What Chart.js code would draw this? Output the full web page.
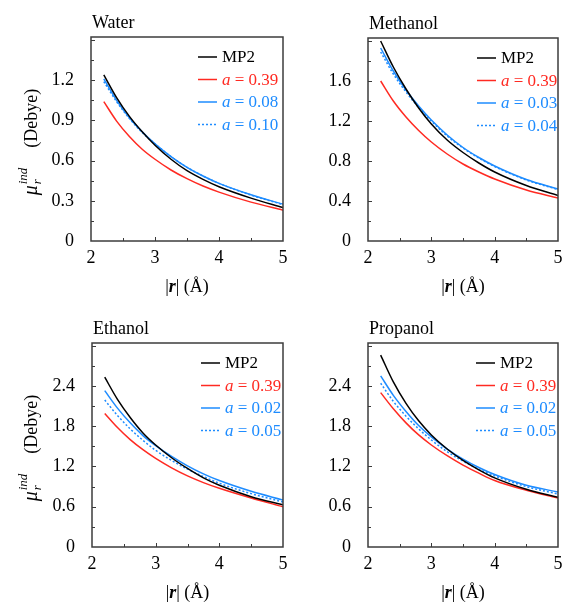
<!DOCTYPE html>
<html><head><meta charset="utf-8">
<script src="https://cdn.jsdelivr.net/npm/chart.js@4.4.1/dist/chart.umd.min.js"></script>
<style>
html,body{margin:0;padding:0;background:#fff;}
#wrap{position:relative;width:563px;height:604px;overflow:hidden;}
#wrap canvas{position:absolute;left:0;top:0;}
</style></head><body>
<div id="wrap">
<canvas id="c0" width="563" height="604"></canvas>
<canvas id="c1" width="563" height="604"></canvas>
<canvas id="c2" width="563" height="604"></canvas>
<canvas id="c3" width="563" height="604"></canvas>
</div>
<script>
// ---------- data ----------
const R = [2.2, 2.4, 2.6, 2.8, 3.0, 3.25, 3.5, 3.75, 4.0, 4.5, 5.0];

const waterMP2 = [1.24, 1.07, 0.93, 0.815, 0.715, 0.61, 0.525, 0.46, 0.405, 0.32, 0.25];
const waterA039 = [1.04, 0.895, 0.78, 0.685, 0.61, 0.53, 0.465, 0.41, 0.365, 0.29, 0.23];
const waterA008 = [1.21, 1.05, 0.92, 0.815, 0.725, 0.63, 0.55, 0.485, 0.43, 0.345, 0.275];
const waterA010 = [1.19, 1.04, 0.915, 0.81, 0.725, 0.63, 0.55, 0.485, 0.43, 0.343, 0.272];
const waterLabels = ['MP2', 'a = 0.39', 'a = 0.08', 'a = 0.10'];

const methMP2 = [2.0, 1.74, 1.52, 1.33, 1.17, 1.01, 0.885, 0.78, 0.69, 0.555, 0.455];
const methA039 = [1.60, 1.40, 1.24, 1.105, 0.99, 0.87, 0.77, 0.69, 0.62, 0.51, 0.43];
const methA003 = [1.93, 1.70, 1.51, 1.35, 1.21, 1.06, 0.935, 0.835, 0.75, 0.615, 0.52];
const methA004 = [1.89, 1.67, 1.49, 1.335, 1.20, 1.05, 0.93, 0.83, 0.745, 0.61, 0.515];
const methLabels = ['MP2', 'a = 0.39', 'a = 0.03', 'a = 0.04'];

const ethMP2 = [2.53, 2.20, 1.93, 1.70, 1.52, 1.33, 1.17, 1.03, 0.92, 0.75, 0.63];
const ethA039 = [1.99, 1.78, 1.60, 1.45, 1.32, 1.18, 1.06, 0.96, 0.875, 0.73, 0.60];
const ethA002 = [2.33, 2.07, 1.85, 1.66, 1.51, 1.35, 1.21, 1.09, 0.99, 0.83, 0.70];
const ethA005 = [2.19, 1.96, 1.76, 1.59, 1.44, 1.29, 1.16, 1.05, 0.95, 0.795, 0.67];
const ethLabels = ['MP2', 'a = 0.39', 'a = 0.02', 'a = 0.05'];

const propMP2 = [2.86, 2.46, 2.14, 1.88, 1.67, 1.46, 1.29, 1.15, 1.03, 0.86, 0.74];
const propA039 = [2.30, 2.06, 1.85, 1.67, 1.52, 1.36, 1.22, 1.10, 0.99, 0.845, 0.73];
const propA002 = [2.55, 2.26, 2.02, 1.81, 1.64, 1.46, 1.31, 1.185, 1.08, 0.92, 0.82];
const propA005 = [2.44, 2.17, 1.95, 1.76, 1.595, 1.42, 1.28, 1.16, 1.06, 0.90, 0.79];
const propLabels = ['MP2', 'a = 0.39', 'a = 0.02', 'a = 0.05'];

const panelTitles = ['Water', 'Methanol', 'Ethanol', 'Propanol'];
const xTickValues = [2, 3, 4, 5];
const yTickSteps = [0.3, 0.4, 0.6, 0.6];
const yAxisMax = [1.5225, 2.03, 3.04, 3.04];

// ---------- styling / layout ----------
const FONT = '"Liberation Serif","Times New Roman",serif';
Chart.defaults.font.family = FONT;
const COLORS = ['#000000', '#ff2a22', '#1e8cff', '#1e8cff'];
const DASHES = [[], [], [], [2, 2]];
const PAGE_W = 563, PAGE_H = 604;
const YW = 60, XH = 30;
const boxes = [
  {l: 91, r: 283, t: 37, b: 241, yTitle: true, legendDx: 85},
  {l: 368, r: 558, t: 38, b: 241, yTitle: false, legendDx: 81},
  {l: 92, r: 283, t: 343, b: 547, yTitle: true, legendDx: 82},
  {l: 368, r: 558, t: 343, b: 547, yTitle: false, legendDx: 82}
];

const decor = {
  id: 'decor',
  afterDraw(chart, args, o) {
    const ctx = chart.ctx, a = chart.chartArea;
    const xs = chart.scales.x, ys = chart.scales.y;
    ctx.save();
    // inward ticks
    ctx.strokeStyle = '#3a3a3a';
    ctx.lineWidth = 1;
    ctx.beginPath();
    xs.ticks.forEach(t => {
      const px = Math.round(xs.getPixelForValue(t.value)) + 0.5;
      if (px < a.left + 2 || px > a.right - 2) return;
      const L = Number.isInteger(t.value) ? 4 : 3;
      ctx.moveTo(px, a.bottom); ctx.lineTo(px, a.bottom - L);
    });
    ys.ticks.forEach(t => {
      const py = Math.round(ys.getPixelForValue(t.value)) + 0.5;
      if (py < a.top + 2 || py > a.bottom - 2) return;
      const k = Math.round(t.value / (o.step / 2));
      const L = k % 2 === 0 ? 4 : 3;
      ctx.moveTo(a.left, py); ctx.lineTo(a.left + L, py);
    });
    ctx.stroke();
    // frame
    ctx.lineWidth = 1.5;
    ctx.strokeStyle = '#3c3c3c';
    ctx.strokeRect(a.left, a.top, a.right - a.left, a.bottom - a.top);
    // panel title
    ctx.fillStyle = '#000';
    ctx.font = '18px ' + FONT;
    ctx.textAlign = 'left';
    ctx.textBaseline = 'alphabetic';
    ctx.fillText(o.title, a.left + 1, a.top - 9);
    // legend
    chart.data.datasets.forEach((ds, i) => {
      const yy = a.top + 20 + i * 22.5;
      const x0 = a.right - o.legendDx;
      ctx.strokeStyle = ds.borderColor;
      ctx.lineWidth = 1.5;
      ctx.setLineDash(ds.borderDash || []);
      ctx.beginPath(); ctx.moveTo(x0, yy); ctx.lineTo(x0 + 19, yy); ctx.stroke();
      ctx.setLineDash([]);
      ctx.fillStyle = ds.borderColor;
      ctx.textBaseline = 'middle';
      let tx = x0 + 24;
      const parts = ds.label.startsWith('a ') ? [['italic ', 'a'], ['', ds.label.slice(1)]] : [['', ds.label]];
      parts.forEach(([st, s]) => {
        ctx.font = st + '17px ' + FONT;
        ctx.fillText(s, tx, yy + 1);
        tx += ctx.measureText(s).width;
      });
    });
    // x title  |r| (Å)
    ctx.fillStyle = '#000';
    ctx.textBaseline = 'alphabetic';
    const xparts = [['18px ', '|'], ['italic bold 18px ', 'r'], ['18px ', '| (Å)']];
    let wsum = 0;
    xparts.forEach(([f, s]) => { ctx.font = f + FONT; wsum += ctx.measureText(s).width; });
    let xx = (a.left + a.right) / 2 - wsum / 2;
    xparts.forEach(([f, s]) => { ctx.font = f + FONT; ctx.fillText(s, xx, a.bottom + 51); xx += ctx.measureText(s).width; });
    // y title
    if (o.yTitle) {
      ctx.save();
      ctx.translate(37, (a.top + a.bottom) / 2 + 3);
      ctx.rotate(-Math.PI / 2);
      const fMu = 'italic 20px ' + FONT, fS = 'italic 13px ' + FONT, fN = '18px ' + FONT;
      ctx.font = fMu; const wMu = ctx.measureText('μ').width;
      ctx.font = fS; const wS = Math.max(ctx.measureText('r').width, ctx.measureText('ind').width);
      ctx.font = fN; const wD = ctx.measureText('(Debye)').width;
      const gap = 20;
      const total = wMu + 1 + wS + gap + wD;
      let x = -total / 2;
      ctx.font = fMu; ctx.fillText('μ', x, 0); x += wMu + 1;
      ctx.font = fS; ctx.fillText('r', x, 4); ctx.fillText('ind', x, -10); x += wS + gap;
      ctx.font = fN; ctx.fillText('(Debye)', x, 0);
      ctx.restore();
    }
    ctx.restore();
  }
};

const allSeries = [
  [waterMP2, waterA039, waterA008, waterA010],
  [methMP2, methA039, methA003, methA004],
  [ethMP2, ethA039, ethA002, ethA005],
  [propMP2, propA039, propA002, propA005]
];
const allLabels = [waterLabels, methLabels, ethLabels, propLabels];

function fmt(v) { return v === 0 ? '0' : v.toFixed(1); }

allSeries.forEach((series, p) => {
  const box = boxes[p];
  const step = yTickSteps[p];
  const ymax = yAxisMax[p];
  new Chart(document.getElementById('c' + p), {
    type: 'line',
    data: {
      datasets: series.map((s, i) => ({
        label: allLabels[p][i],
        data: R.map((r, j) => ({x: r, y: s[j]})),
        borderColor: COLORS[i],
        borderDash: DASHES[i],
        borderWidth: 1.5,
        pointRadius: 0,
        fill: false,
        cubicInterpolationMode: 'monotone'
      }))
    },
    options: {
      responsive: false,
      animation: false,
      events: [],
      layout: {padding: {left: box.l - YW, top: box.t, right: PAGE_W - box.r, bottom: PAGE_H - box.b - XH}},
      plugins: {
        legend: {display: false},
        tooltip: {enabled: false},
        decor: {title: panelTitles[p], legendDx: box.legendDx, yTitle: box.yTitle, step: step}
      },
      scales: {
        x: {
          type: 'linear', min: xTickValues[0], max: xTickValues[xTickValues.length - 1],
          afterFit(s) { s.height = XH; s.paddingLeft = 0; s.paddingRight = 0; },
          afterBuildTicks(s) {
            const t = [];
            for (let k = 0; k <= (xTickValues.length - 1) * 2; k++) t.push({value: xTickValues[0] + k * 0.5});
            s.ticks = t;
          },
          ticks: {autoSkip: false, maxRotation: 0, padding: 6, color: '#000', font: {size: 18, family: FONT},
            callback(v) { return Number.isInteger(v) ? String(v) : ''; }},
          grid: {display: false, drawTicks: false},
          border: {display: false}
        },
        y: {
          type: 'linear', min: 0, max: ymax,
          afterFit(s) { s.width = YW; s.paddingTop = 0; s.paddingBottom = 0; },
          afterBuildTicks(s) {
            const t = [];
            for (let k = 0; k * step / 2 <= ymax + 1e-9; k++) t.push({value: Math.round(k * step / 2 * 1000) / 1000});
            s.ticks = t;
          },
          ticks: {autoSkip: false, padding: 17, color: '#000', font: {size: 18, family: FONT},
            callback(v) {
              const k = Math.round(v / (step / 2));
              if (k % 2 !== 0) return '';
              if (v > 4 * step + 1e-6) return '';
              return fmt(v);
            }},
          grid: {display: false, drawTicks: false},
          border: {display: false}
        }
      }
    },
    plugins: [decor]
  });
});
</script>
</body></html>
